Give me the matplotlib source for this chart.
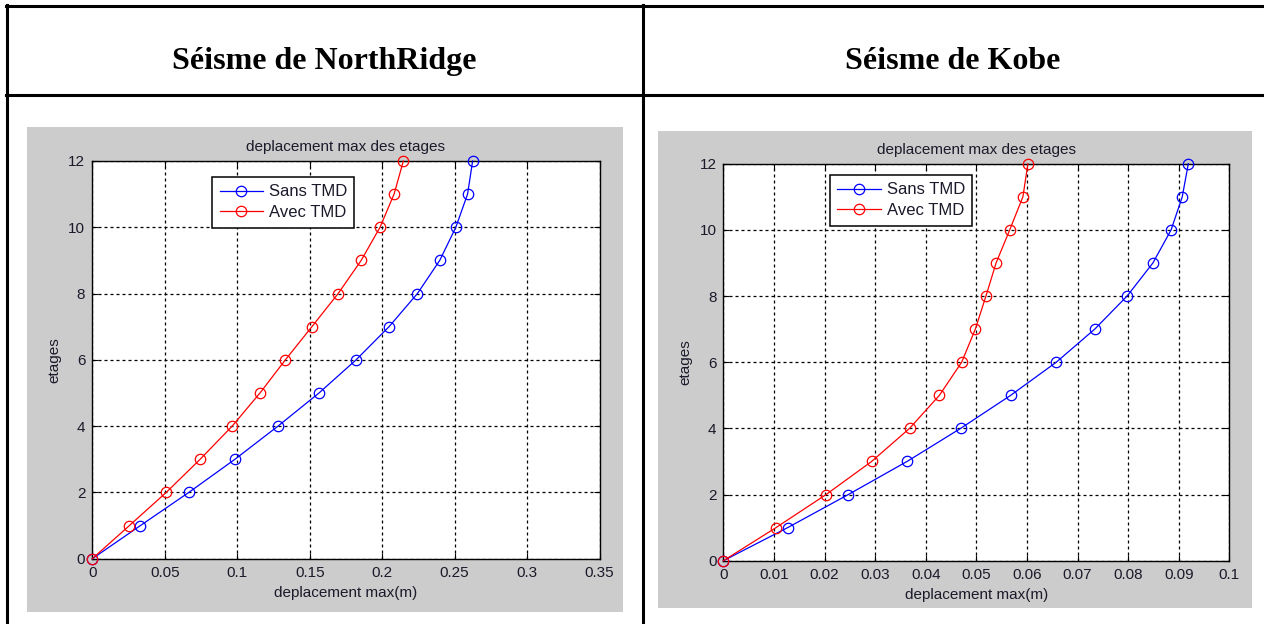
import matplotlib
matplotlib.use("Agg")
import matplotlib.pyplot as plt
from matplotlib.patches import Rectangle
from matplotlib.lines import Line2D

# ---------------- data ----------------
floors = [0, 1, 2, 3, 4, 5, 6, 7, 8, 9, 10, 11, 12]

north_sans = [0, 0.0332, 0.0666, 0.0984, 0.1281, 0.1564, 0.1820, 0.2047,
              0.2243, 0.2397, 0.2508, 0.2589, 0.2624]
north_avec = [0, 0.0256, 0.0510, 0.0744, 0.0965, 0.1157, 0.1332, 0.1515,
              0.1696, 0.1855, 0.1985, 0.2082, 0.2146]

kobe_sans = [0, 0.0127, 0.0247, 0.0363, 0.0469, 0.0568, 0.0658, 0.0734,
             0.0798, 0.0849, 0.0885, 0.0907, 0.0919]
kobe_avec = [0, 0.0104, 0.0203, 0.0293, 0.0368, 0.0427, 0.0471, 0.0498,
             0.0519, 0.0539, 0.0566, 0.0592, 0.0602]

north_xticks = [0, 0.05, 0.1, 0.15, 0.2, 0.25, 0.3, 0.35]
north_xlabels = ["0", "0.05", "0.1", "0.15", "0.2", "0.25", "0.3", "0.35"]
kobe_xticks = [0, 0.01, 0.02, 0.03, 0.04, 0.05, 0.06, 0.07, 0.08, 0.09, 0.1]
kobe_xlabels = ["0", "0.01", "0.02", "0.03", "0.04", "0.05", "0.06", "0.07",
                "0.08", "0.09", "0.1"]
yticks = [0, 2, 4, 6, 8, 10, 12]

headers = ["Séisme de NorthRidge", "Séisme de Kobe"]
title_txt = "deplacement max des etages"
xlabel_txt = "deplacement max(m)"
ylabel_txt = "etages"
legend_labels = ["Sans TMD", "Avec TMD"]

# ---------------- figure ----------------
W, H = 1264, 624
fig = plt.figure(figsize=(W / 100, H / 100), dpi=100)
fig.patch.set_facecolor("white")

MFONT = "Liberation Sans"
FS = 10.5
TXT = "#1a1a2a"


def rect(x0, y0, x1, y1):
    return [x0 / W, 1 - y1 / H, (x1 - x0) / W, (y1 - y0) / H]


def hline(y, x0, x1, lw=2.2):
    fig.add_artist(Line2D([x0 / W, x1 / W], [1 - y / H, 1 - y / H],
                          transform=fig.transFigure, color="black", lw=lw))


def vline(x, y0, y1, lw=2.2):
    fig.add_artist(Line2D([x / W, x / W], [1 - y0 / H, 1 - y1 / H],
                          transform=fig.transFigure, color="black", lw=lw))


# table lines
hline(6, 6, W)
hline(95, 6, W)
vline(7, 5, H)
vline(642.5, 5, H)

# headers
fig.text(324.5 / W, 1 - 69 / H, headers[0], ha="center", va="baseline",
         fontsize=23, fontweight="bold", family="Liberation Serif")
fig.text(953 / W, 1 - 69 / H, headers[1], ha="center", va="baseline",
         fontsize=23, fontweight="bold", family="Liberation Serif")

# gray figure backgrounds
for (x0, y0, x1, y1) in [(27, 127, 623, 612), (658.5, 131, 1251.5, 608)]:
    fig.add_artist(Rectangle((x0 / W, 1 - y1 / H), (x1 - x0) / W, (y1 - y0) / H,
                             transform=fig.transFigure, facecolor="#cccccc",
                             edgecolor="none", zorder=0))


def make_panel(ax_rect, xs_sans, xs_avec, xmax, xticks, xlabels, leg_xy):
    ax = fig.add_axes(ax_rect)
    ax.set_facecolor("white")
    ax.plot(xs_sans, floors, color="#0000ff", lw=0.9, marker="o", ms=7.5,
            mfc="none", mec="#0000ff", mew=0.9, label=legend_labels[0],
            clip_on=False, zorder=3)
    ax.plot(xs_avec, floors, color="#ff0000", lw=0.9, marker="o", ms=7.5,
            mfc="none", mec="#ff0000", mew=0.9, label=legend_labels[1],
            clip_on=False, zorder=3)
    ax.set_xlim(0, xmax)
    ax.set_ylim(0, 12)
    ax.set_xticks(xticks)
    ax.set_xticklabels(xlabels)
    ax.set_yticks(yticks)
    ax.grid(True, color="black", linestyle=(0, (2.4, 2.4)), lw=0.9)
    ax.set_axisbelow(True)
    ax.tick_params(direction="in", length=4, width=0.8, top=True, right=True,
                   labelsize=FS + 0.5, pad=5, colors="black")
    for lab in ax.get_xticklabels() + ax.get_yticklabels():
        lab.set_family(MFONT)
        lab.set_color(TXT)
    for s in ax.spines.values():
        s.set_linewidth(1.0)
        s.set_color("black")
    ax.set_title(title_txt, fontsize=FS + 0.5, family=MFONT, pad=7, color=TXT)
    ax.set_xlabel(xlabel_txt, fontsize=FS + 0.5, family=MFONT, labelpad=4.5,
                  color=TXT)
    ax.set_ylabel(ylabel_txt, fontsize=FS + 0.5, family=MFONT, labelpad=5,
                  color=TXT)
    leg = ax.legend(loc="upper left",
                    bbox_to_anchor=(leg_xy[0] / W, 1 - leg_xy[1] / H),
                    bbox_transform=fig.transFigure, frameon=True,
                    fancybox=False, framealpha=1, edgecolor="black",
                    prop={"family": MFONT, "size": FS + 1.5},
                    handlelength=2.6, handletextpad=0.35, borderpad=0.45,
                    labelspacing=0.35, borderaxespad=0)
    leg.get_frame().set_linewidth(1.1)
    for t in leg.get_texts():
        t.set_color(TXT)
    return ax


make_panel(rect(92.3, 161, 599.6, 558.7), north_sans, north_avec, 0.35,
           north_xticks, north_xlabels, (212, 177))
make_panel(rect(723.4, 163.7, 1229.3, 560.7), kobe_sans, kobe_avec, 0.1,
           kobe_xticks, kobe_xlabels, (830, 175))

fig.savefig("out.png", dpi=100, facecolor="white")
